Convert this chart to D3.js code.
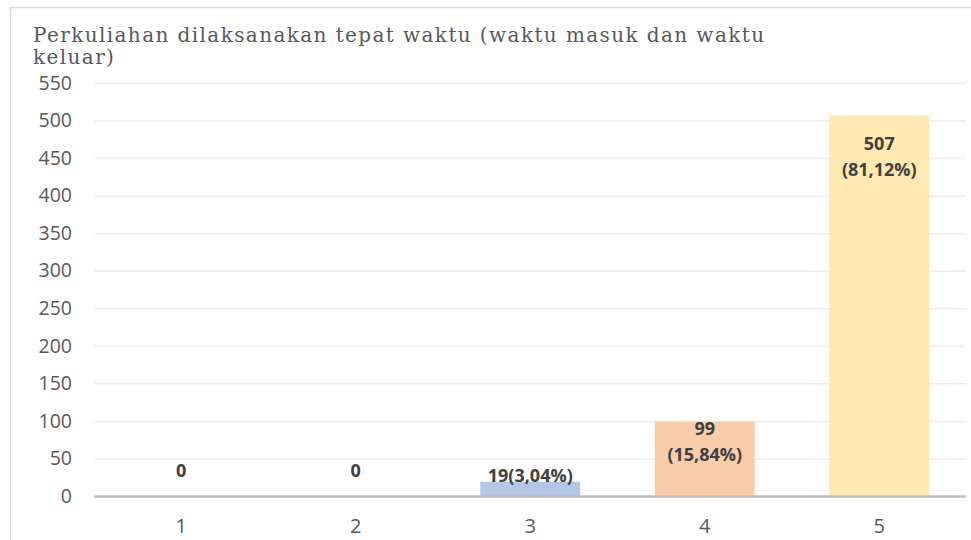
<!DOCTYPE html>
<html>
<head>
<meta charset="utf-8">
<script src="https://cdn.jsdelivr.net/npm/d3@7"></script>
<style>
  body { margin: 0; background: #fff; }
  svg { display: block; }
</style>
</head>
<body>
<div id="chart"></div>
<script>
var categories = ["1", "2", "3", "4", "5"];
var values = [0, 0, 19, 99, 507];
var labelLines = [["0"], ["0"], ["19(3,04%)"], ["99", "(15,84%)"], ["507", "(81,12%)"]];
var yTicks = [0, 50, 100, 150, 200, 250, 300, 350, 400, 450, 500, 550];
var titleLines = ["Perkuliahan dilaksanakan tepat waktu (waktu masuk dan waktu", "keluar)"];

var barColors = ["#B4C7E7", "#B4C7E7", "#B4C7E7", "#F9CDAB", "#FFE8B2"];
// manual label placement (px from bar top), like the hand-moved labels in the original
var labelOffset = [-19, -19, 0, 13, 35];

var width = 971, height = 540;
var margin = { left: 94, right: 5, top: 83, bottom: 44 };

var svg = d3.select("#chart").append("svg")
  .attr("width", width)
  .attr("height", height);

// outer frame (right / bottom edges fall outside the picture)
svg.append("rect")
  .attr("x", 10.5).attr("y", 7.5)
  .attr("width", 1000).attr("height", 600)
  .attr("fill", "none")
  .attr("stroke", "#D9D9D9")
  .attr("stroke-width", 1.5);

var x = d3.scaleBand()
  .domain(categories)
  .range([margin.left, 966.5])
  .paddingInner(0.427)
  .paddingOuter(0.2135);

var y = d3.scaleLinear()
  .domain([0, 550])
  .range([496, margin.top]);

// gridlines
svg.append("g")
  .selectAll("line")
  .data(yTicks.filter(function(d) { return d > 0; }))
  .enter().append("line")
  .attr("x1", margin.left).attr("x2", 966)
  .attr("y1", function(d) { return y(d) + 0.5; })
  .attr("y2", function(d) { return y(d) + 0.5; })
  .attr("stroke", "#EDEDED")
  .attr("stroke-width", 1.5);

// y axis labels
var yAxis = d3.axisLeft(y).tickValues(yTicks).tickSize(0).tickPadding(0);
var gy = svg.append("g")
  .attr("transform", "translate(72,0)")
  .call(yAxis);
gy.select(".domain").remove();
gy.selectAll("text")
  .attr("font-family", "'Open Sans', sans-serif")
  .attr("font-size", 19.5)
  .attr("fill", "#595959");

// bars
svg.append("g")
  .selectAll("rect")
  .data(values)
  .enter().append("rect")
  .attr("x", function(d, i) { return x(categories[i]); })
  .attr("width", x.bandwidth())
  .attr("y", function(d) { return y(d); })
  .attr("height", function(d) { return y(0) - y(d); })
  .attr("fill", function(d, i) { return barColors[i]; });

// baseline
svg.append("line")
  .attr("x1", margin.left).attr("x2", 966)
  .attr("y1", y(0) + 0.5).attr("y2", y(0) + 0.5)
  .attr("stroke", "#BFBFBF")
  .attr("stroke-width", 2.5);

// x axis labels
var xAxis = d3.axisBottom(x).tickSize(0).tickPadding(0);
var gx = svg.append("g")
  .attr("transform", "translate(0,519)")
  .call(xAxis);
gx.select(".domain").remove();
gx.selectAll("text")
  .attr("font-family", "'Open Sans', sans-serif")
  .attr("font-size", 20)
  .attr("fill", "#595959");

// data labels
var labels = svg.append("g")
  .selectAll("text")
  .data(values)
  .enter().append("text")
  .attr("text-anchor", "middle")
  .attr("font-family", "'Open Sans', sans-serif")
  .attr("font-weight", "bold")
  .attr("font-size", 18)
  .attr("fill", "#404040");

labels.each(function(d, i) {
  var cx = x(categories[i]) + x.bandwidth() / 2;
  var base = y(d) + labelOffset[i];
  d3.select(this).selectAll("tspan")
    .data(labelLines[i])
    .enter().append("tspan")
    .attr("x", cx)
    .attr("y", function(l, j) { return base + j * 26; })
    .text(function(l) { return l; });
});

// title
svg.append("g")
  .selectAll("text")
  .data(titleLines)
  .enter().append("text")
  .attr("x", 33)
  .attr("y", function(d, i) { return 42 + i * 22; })
  .attr("font-family", "'DejaVu Serif', serif")
  .attr("font-size", 20)
  .attr("letter-spacing", 1.4)
  .attr("fill", "#595959")
  .text(function(d) { return d; });
</script>
</body>
</html>
